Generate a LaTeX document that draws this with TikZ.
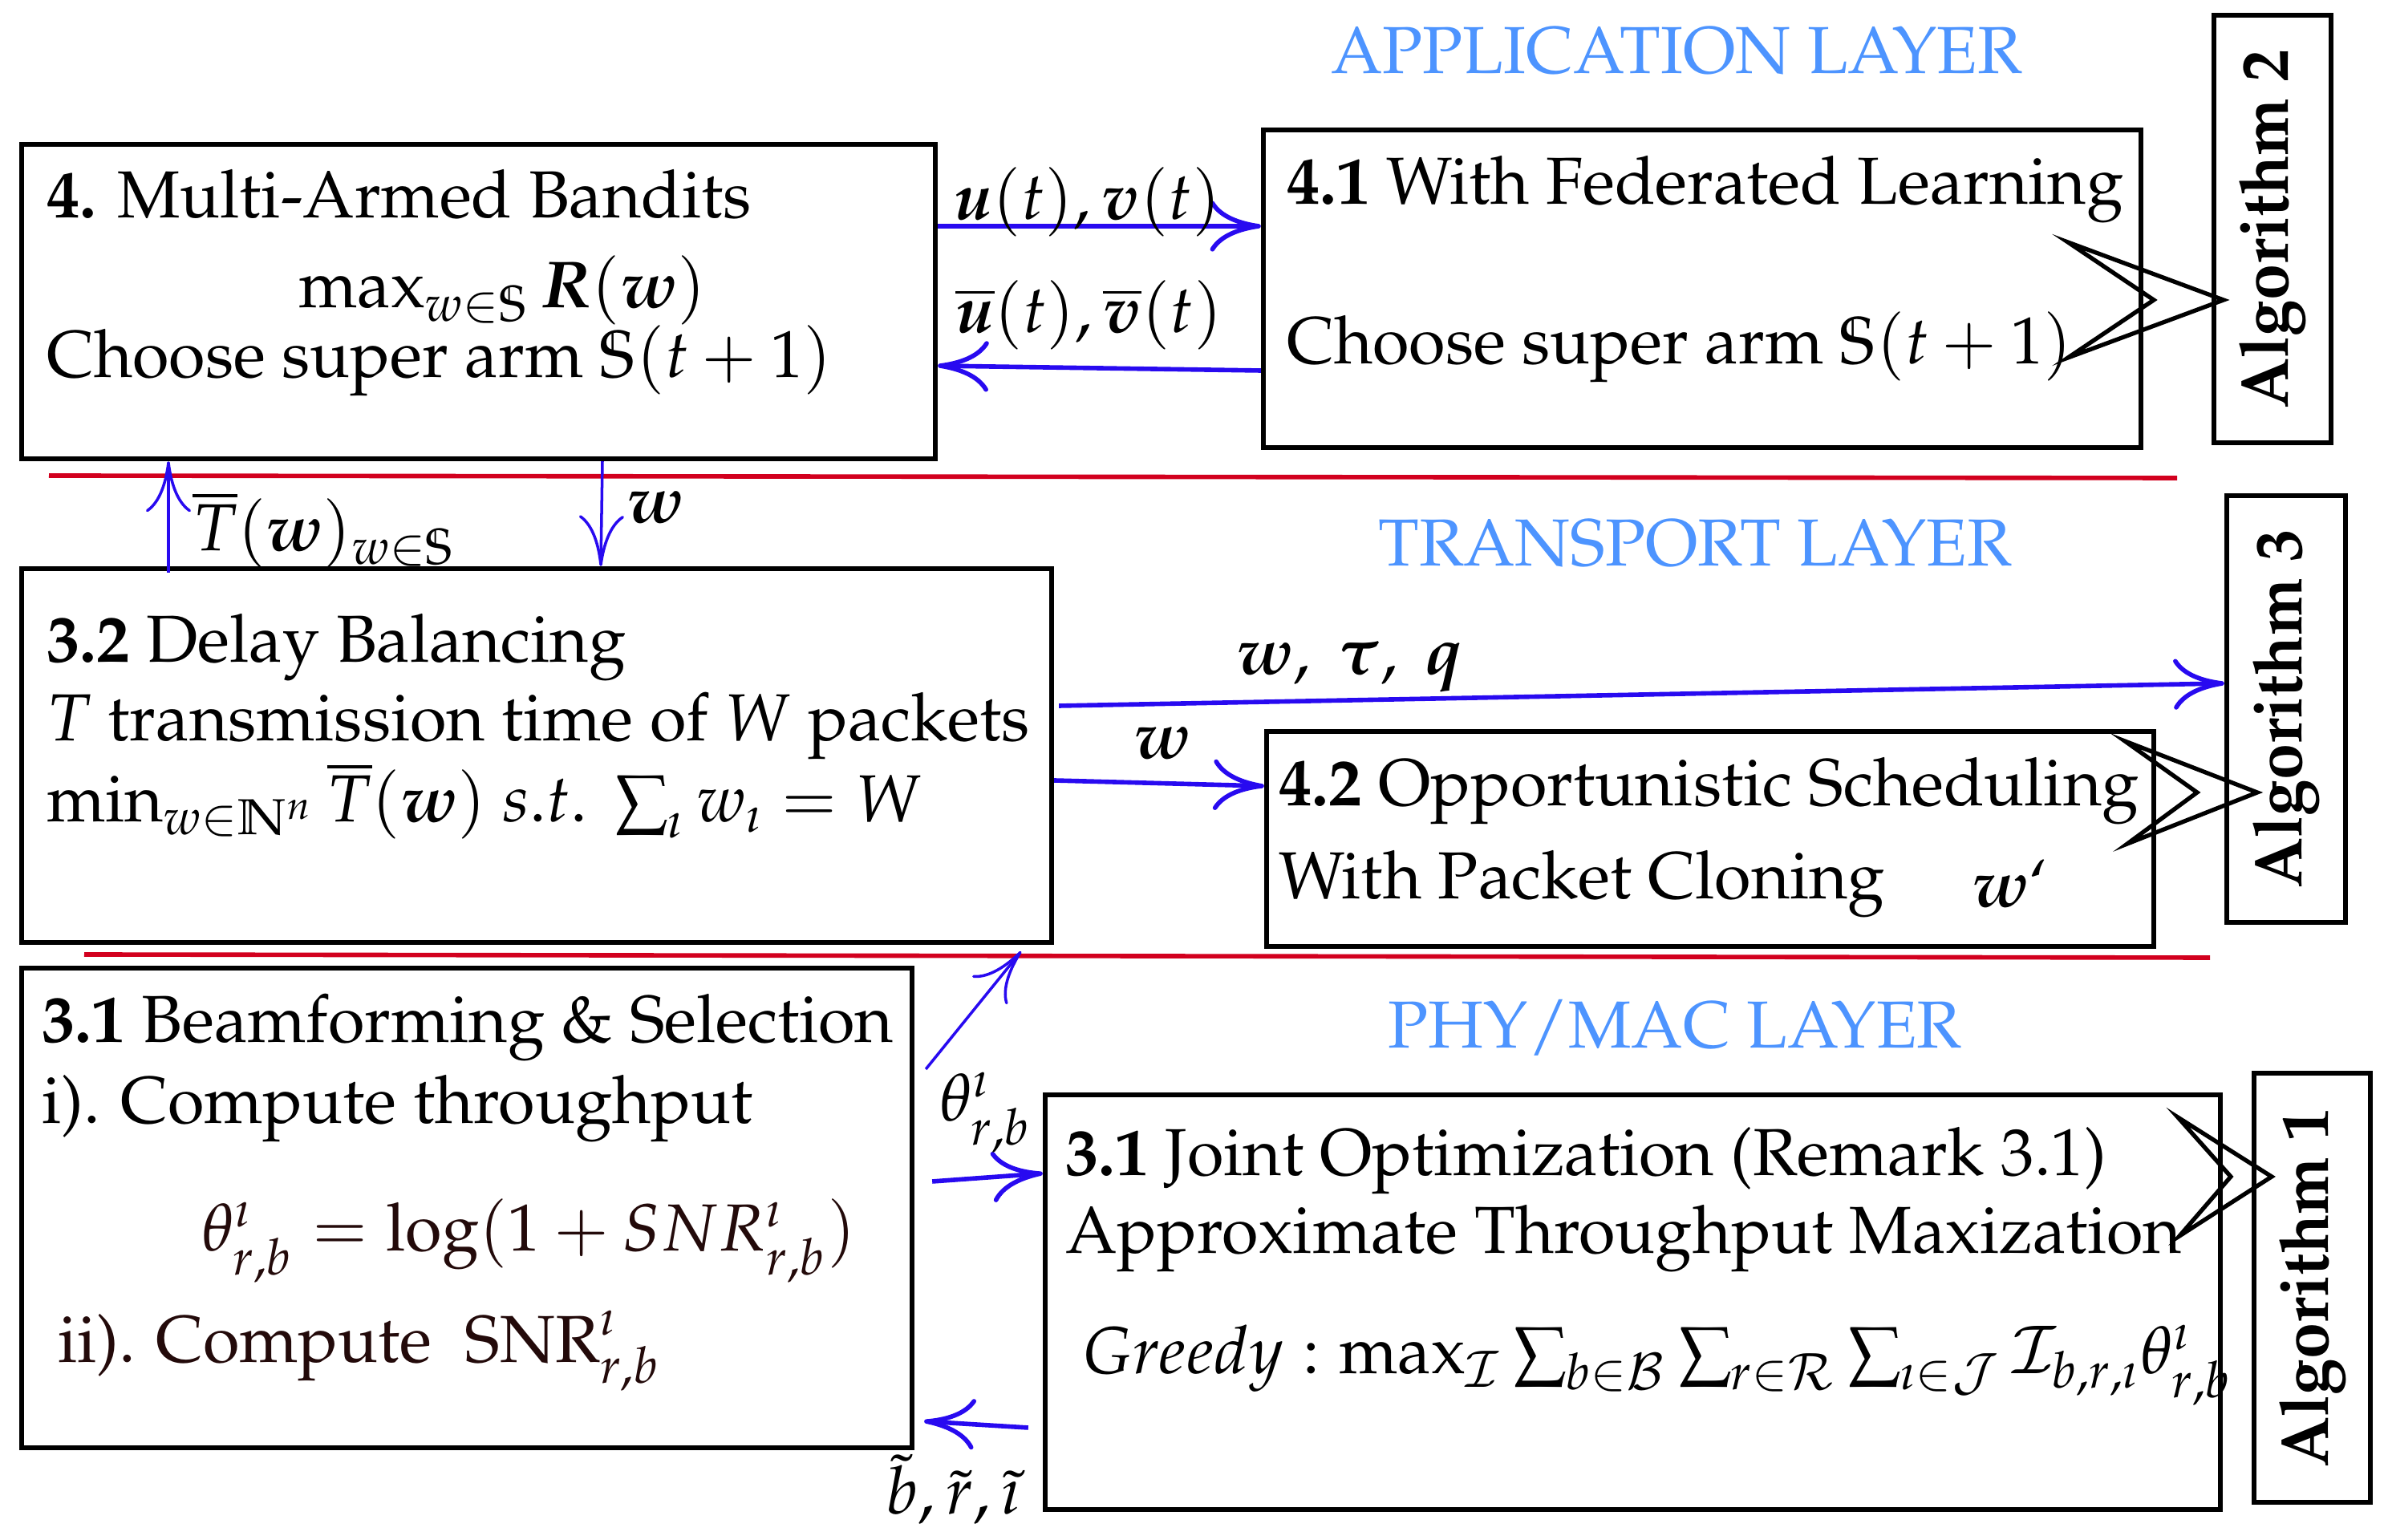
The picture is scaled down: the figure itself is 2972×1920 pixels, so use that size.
\documentclass[tikz,border=0pt]{standalone}
\usepackage{amsmath}
\usepackage[T1]{fontenc}
\usepackage{mathpazo}
\usepackage{graphicx}
\usetikzlibrary{arrows.meta,fit,calc}
\definecolor{arrblue}{RGB}{40,10,240}
\definecolor{sepred}{RGB}{210,0,30}
\definecolor{layerblue}{RGB}{77,148,255}
\definecolor{darkbrown}{RGB}{35,10,10}
\tikzset{
  box/.style={draw=black, line width=0.9pt, inner sep=0pt, rectangle},
  txt/.style={anchor=base west, inner sep=0pt, font=\normalfont\fontsize{11.8}{14}\selectfont},
  lbl/.style={anchor=base west, inner sep=0pt, font=\normalfont\fontsize{11.8}{14}\selectfont},
  layer/.style={anchor=base, inner sep=0pt, text=layerblue, font=\normalfont\fontsize{11.8}{14}\selectfont},
  algtxt/.style={rotate=90, inner sep=0pt, font=\normalfont\fontsize{12}{14}\selectfont\bfseries},
  arr/.style={draw=arrblue, line width=0.8pt, -{To[length=9pt,width=9pt]}},
  thinarr/.style={draw=arrblue, line width=0.5pt, -{To[length=9pt,width=8pt]}},
  sep/.style={draw=sepred, line width=0.8pt},
  chev/.style={draw=black, line width=0.75pt, line join=miter},
}
\begin{document}
\begin{tikzpicture}[x=0.1423pt, y=-0.1423pt]
\useasboundingbox (0,0) rectangle (2972,1920);

% ---------- boxes ----------
\node[box, fit={(27,180) (1166,572)}] (mab) {};
\node[box, fit={(1575,162) (2669,558)}] (fl) {};
\node[box, fit={(2760,19) (2906,552)}] (alg2) {};
\node[box, fit={(27,709) (1311,1175)}] (db) {};
\node[box, fit={(1579,912) (2685,1180)}] (os) {};
\node[box, fit={(2776,618) (2924,1150)}] (alg3) {};
\node[box, fit={(27,1207) (1137,1805)}] (bf) {};
\node[box, fit={(1303,1365) (2768,1882)}] (jo) {};
\node[box, fit={(2810,1338) (2955,1873)}] (alg1) {};

% ---------- separators ----------
\draw[sep] (61,593) -- (2714,596);
\draw[sep] (105,1190) -- (2755,1194);

% ---------- layer titles ----------
\node[layer] (lapp) at (2090,92) {APPLICATION LAYER};
\node[layer] (ltra) at (2113,706) {TRANSPORT LAYER};
\node[layer] (lphy) at (2088,1307) {PHY/MAC LAYER};

% ---------- algorithm labels ----------
\node[algtxt] (alg2t) at (alg2.center) {\scalebox{0.96}[1]{Algorithm 2}};
\node[algtxt] (alg3t) at (alg3.center) {\scalebox{0.96}[1]{Algorithm 3}};
\node[algtxt] (alg1t) at (alg1.center) {\scalebox{0.96}[1]{Algorithm 1}};

% ---------- box texts ----------
\node[txt] (mab1) at (57,272) {\textbf{4.} Multi-Armed Bandits};
\node[txt] (mab2) at (371,384) {$\max_{w\in\mathbb{S}}\boldsymbol{R}(\boldsymbol{w})$};
\node[txt] (mab3) at (57,471) {Choose super arm $\mathbb{S}(t+1)$};

\node[txt] (fl1) at (1603,255) {\textbf{4.1} With Federated Learning};
\node[txt] (fl2) at (1603,454) {Choose super arm $\mathbb{S}(t+1)$};

\node[txt] (db1) at (57,826) {\textbf{3.2} Delay Balancing};
\node[txt] (db2) at (57,924) {$T$ transmission time of $W$ packets};
\node[txt] (db3) at (57,1025) {$\min_{w\in\mathbb{N}^n}\overline{T}(\boldsymbol{w})\ s.t.\ \sum_{\imath} w_{\imath}=W$};

\node[txt] (os1) at (1593,1005) {\textbf{4.2} Opportunistic Scheduling};
\node[txt] (os2) at (1593,1121) {With Packet Cloning};
\node[txt] (os3) at (2457,1131) {$\boldsymbol{w}$\textquoteleft};

\node[txt] (bf1) at (51,1300) {\textbf{3.1} Beamforming \& Selection};
\node[txt] (bf2) at (51,1401) {i). Compute throughput};
\node[txt, text=darkbrown] (bf3) at (250,1560) {$\theta^{\imath}_{r,b}=\log(1+SNR^{\imath}_{r,b})$};
\node[txt, text=darkbrown] (bf4) at (71,1699) {ii). Compute\ \ $\mathrm{SNR}^{\imath}_{r,b}$};

\node[txt] (jo1) at (1327,1466) {\textbf{3.1} Joint Optimization (Remark 3.1)};
\node[txt] (jo2) at (1327,1563) {Approximate Throughput Maxization};
\node[txt] (jo3) at (1347,1713) {$Greedy:\max_{\mathcal{I}}\sum_{b\in\mathcal{B}}\sum_{r\in\mathcal{R}}\sum_{\imath\in\mathcal{J}}\mathcal{I}_{b,r,\imath}\theta^{\imath}_{r,b}$};

% ---------- chevrons ----------
\draw[chev] (2578,302) -- (2772,374) -- (2578,446) -- (2685,374) -- cycle;
\draw[chev] (2649,924) -- (2814,988) -- (2652,1052) -- (2739,988) -- cycle;
\draw[chev] (2715,1393) -- (2832,1467) -- (2717,1541) -- (2781,1467) -- cycle;

% ---------- connectors ----------
\draw[arr] (mab.east |- 0,282) -- (fl.west |- 0,282);
\draw[arr] (fl.west |- 0,462) -- (mab.east |- 0,456);
\draw[thinarr] ($(db.north -| 210,0)+(0,8)$) -- (mab.south -| 210,0);
\draw[thinarr] (mab.south -| 751,0) -- (db.north -| 749,0);
\draw[arr] ($(db.east |- 0,880)+(6,0)$) -- (alg3.west |- 0,852);
\draw[arr] (db.east |- 0,973) -- (os.west |- 0,980);
\draw[thinarr] ($(bf.east |- 0,1333)+(14,0)$) -- ($(db.south -| 1273,0)+(0,8)$);
\draw[arr] ($(bf.east |- 0,1473)+(22,0)$) -- (jo.west |- 0,1463);
\draw[arr] ($(jo.west |- 0,1780)+(-18,0)$) -- ($(bf.east |- 0,1772)+(12,0)$);

% ---------- connector labels ----------
\node[lbl] (l1) at (1188,274) {$\boldsymbol{u}(t),\boldsymbol{v}(t)$};
\node[lbl] (l2) at (1190,415) {$\overline{\boldsymbol{u}}(t),\overline{\boldsymbol{v}}(t)$};
\node[lbl] (l3) at (239,687) {$\overline{T}(\boldsymbol{w})_{w\in\mathbb{S}}$};
\node[lbl] (l4) at (780,652) {$\boldsymbol{w}$};
\node[lbl] (l5) at (1540,841) {$\boldsymbol{w},\ \boldsymbol{\tau},\ \boldsymbol{q}$};
\node[lbl] (l6) at (1412,946) {$\boldsymbol{w}$};
\node[lbl] (l7) at (1170,1398) {$\theta^{\imath}_{r,b}$};
\node[lbl] (l8) at (1103,1888) {$\tilde{b},\tilde{r},\tilde{\imath}$};
\end{tikzpicture}
\end{document}
